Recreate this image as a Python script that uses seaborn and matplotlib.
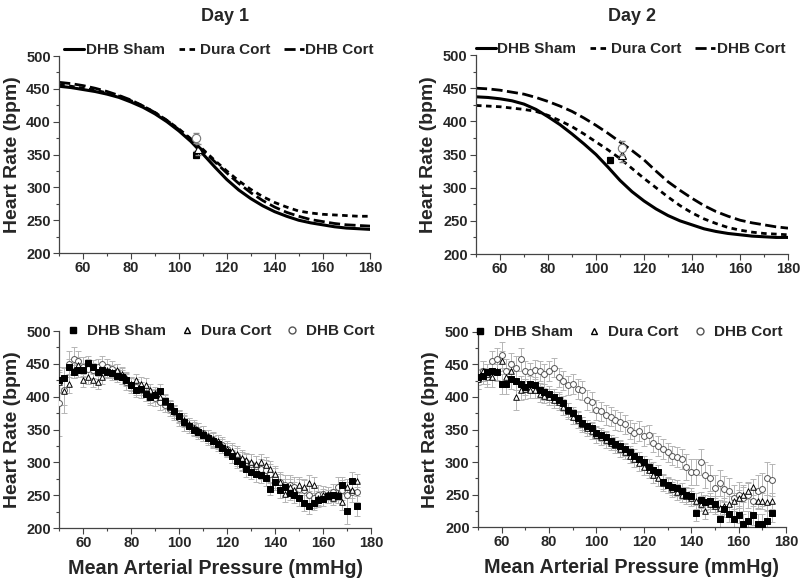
import numpy as np
import pandas as pd
import seaborn as sns
import matplotlib.pyplot as plt
from matplotlib.lines import Line2D
from matplotlib.ticker import MultipleLocator

# ---- fitted curves (top row), MAP every 5 mmHg ----
fit_map = list(range(50, 181, 5))

d1_sham_fit = [454, 452, 449, 446, 442, 437, 430, 422, 412, 400, 386, 370, 351, 331,
               312, 296, 283, 272, 263, 256, 250, 246, 243, 240, 238, 237, 236]
d1_dura_fit = [456, 454, 451, 448, 444, 439, 432, 424, 414, 402, 389, 374, 358, 341,
               325, 310, 297, 286, 277, 270, 264, 261, 259, 258, 257, 256, 256]
d1_cort_fit = [460, 458, 455, 451, 446, 440, 433, 424, 414, 402, 388, 373, 356, 339,
               322, 306, 292, 280, 270, 262, 256, 251, 248, 245, 243, 242, 241]

d2_sham_fit = [437, 436, 434, 431, 426, 418, 407, 395, 381, 366, 350, 331, 311, 294,
               280, 268, 258, 250, 244, 238, 234, 231, 229, 227, 226, 225, 225]
d2_dura_fit = [424, 423, 422, 420, 418, 415, 409, 401, 392, 381, 369, 357, 344, 329,
               314, 300, 286, 273, 262, 253, 246, 240, 236, 233, 231, 230, 229]
d2_cort_fit = [450, 449, 447, 444, 441, 436, 430, 423, 415, 405, 394, 382, 369, 356,
               342, 325, 309, 296, 284, 273, 264, 257, 251, 247, 244, 241, 239]

# mean operating points (MAP, HR, SEM)
d1_mean_map = [107, 108, 107]
d1_mean_hr = [350, 358, 375]
d1_mean_sem = [6, 8, 8]
d2_mean_map = [106, 111, 111]
d2_mean_hr = [342, 350, 360]
d2_mean_sem = [5, 12, 10]

# ---- raw data (bottom row), MAP every 2 mmHg ----
raw_map = list(range(50, 175, 2))

d1_sham = [425, 428, 445, 438, 440, 441, 452, 446, 437, 441, 438, 436, 432, 430, 426, 418,
           410, 412, 404, 400, 402, 409, 394, 386, 378, 370, 362, 356, 350, 346, 341, 337,
           332, 328, 322, 316, 309, 302, 297, 290, 286, 282, 280, 276, 260, 270, 258, 262,
           254, 250, 246, 238, 234, 238, 242, 244, 248, 250, 248, 265, 226, 271, 233]
d1_sham_sem = [20, 15, 12, 10, 10, 10, 10, 10, 10, 10, 10, 10, 10, 10, 10, 10,
               10, 10, 10, 10, 10, 10, 10, 8, 8, 8, 8, 8, 8, 8, 8, 8,
               8, 8, 8, 8, 10, 10, 10, 12, 12, 12, 12, 12, 10, 12, 12, 12,
               12, 12, 12, 12, 12, 10, 10, 10, 10, 10, 10, 12, 20, 15, 15]
d1_dura = [422, 408, 420, 440, 448, 425, 430, 425, 422, 430, 440, 438, 440, 435, 428, 420,
           425, 420, 418, 410, 405, 400, 392, 385, 378, 370, 365, 358, 352, 350, 345, 340,
           335, 332, 325, 320, 317, 312, 306, 303, 300, 297, 300, 296, 290, 283, 270, 252,
           262, 258, 266, 263, 268, 265, 245, 250, 252, 245, 252, 240, 262, 258, 272]
d1_dura_sem = [15, 20, 15, 12, 12, 10, 10, 10, 10, 10, 10, 10, 10, 10, 10, 10,
               10, 10, 10, 10, 10, 10, 10, 10, 10, 10, 10, 10, 10, 10, 10, 10,
               10, 10, 10, 10, 10, 10, 10, 10, 12, 12, 12, 12, 12, 12, 12, 12,
               12, 12, 12, 12, 12, 12, 12, 10, 10, 10, 10, 12, 12, 12, 10]
d1_cort = [390, 410, 450, 458, 455, 445, 442, 440, 445, 450, 445, 442, 438, 432, 422, 418,
           415, 410, 405, 400, 398, 392, 388, 382, 376, 368, 360, 356, 352, 348, 344, 338,
           334, 330, 326, 320, 314, 310, 304, 300, 298, 294, 290, 288, 283, 276, 270, 266,
           265, 262, 260, 258, 250, 246, 250, 252, 250, 255, 262, 258, 250, 255, 255]
d1_cort_sem = [50, 35, 20, 18, 15, 15, 15, 12, 12, 12, 12, 12, 12, 12, 12, 12,
               12, 12, 12, 12, 12, 12, 12, 12, 12, 12, 12, 12, 12, 12, 12, 12,
               12, 12, 12, 12, 15, 15, 15, 15, 15, 15, 15, 15, 15, 15, 15, 15,
               15, 15, 15, 15, 15, 15, 15, 12, 12, 12, 15, 15, 20, 15, 15]

d2_sham = [430, 432, 438, 440, 438, 420, 420, 428, 425, 420, 415, 420, 418, 410, 408, 405,
           400, 395, 390, 380, 375, 368, 360, 355, 352, 345, 342, 338, 332, 328, 324, 320,
           315, 310, 305, 300, 292, 288, 284, 270, 265, 262, 260, 255, 250, 248, 222, 242,
           238, 240, 235, 212, 228, 220, 212, 218, 205, 210, 218, 205, 205, 210, 222]
d2_sham_sem = [12, 12, 12, 12, 12, 15, 15, 15, 15, 12, 12, 12, 12, 12, 12, 12,
               12, 12, 12, 10, 10, 10, 10, 10, 10, 10, 10, 10, 10, 10, 10, 10,
               10, 10, 10, 10, 12, 12, 12, 12, 12, 12, 12, 12, 12, 12, 12, 12,
               12, 12, 12, 12, 12, 12, 12, 12, 15, 15, 15, 15, 15, 15, 15]
d2_dura = [428, 440, 435, 430, 440, 455, 430, 440, 400, 410, 412, 410, 410, 405, 402, 400,
           395, 392, 385, 378, 370, 365, 358, 352, 348, 342, 338, 334, 330, 326, 320, 316,
           310, 304, 298, 292, 287, 280, 275, 268, 264, 258, 254, 250, 248, 244, 240, 236,
           225, 235, 232, 230, 232, 236, 240, 245, 250, 255, 262, 240, 240, 238, 240]
d2_dura_sem = [15, 15, 15, 15, 15, 15, 15, 15, 20, 15, 15, 12, 12, 12, 12, 12,
               12, 12, 12, 12, 12, 12, 12, 12, 12, 12, 12, 12, 12, 12, 12, 12,
               12, 12, 12, 12, 12, 12, 12, 12, 12, 12, 12, 12, 12, 12, 12, 12,
               12, 12, 12, 12, 12, 12, 12, 12, 12, 12, 12, 12, 12, 12, 12]
d2_cort = [428, 440, 430, 455, 458, 465, 440, 450, 445, 458, 440, 438, 442, 440, 435, 440,
           445, 430, 425, 418, 420, 412, 410, 395, 392, 380, 378, 372, 370, 365, 362, 358,
           350, 345, 348, 340, 342, 330, 325, 320, 315, 310, 308, 305, 292, 285, 285, 300,
           280, 275, 260, 268, 258, 255, 245, 250, 245, 250, 240, 255, 258, 275, 272]
d2_cort_sem = [15, 15, 15, 15, 18, 20, 18, 18, 18, 18, 15, 15, 15, 15, 15, 15,
               15, 15, 15, 15, 15, 15, 15, 15, 15, 15, 15, 15, 15, 15, 15, 15,
               15, 15, 15, 15, 15, 15, 15, 15, 15, 15, 15, 15, 20, 20, 20, 20,
               20, 20, 20, 20, 20, 20, 20, 20, 20, 20, 20, 25, 25, 25, 25]

groups = ["DHB Sham", "Dura Cort", "DHB Cort"]

sns.set_style("ticks")
plt.rcParams['font.family'] = ['Liberation Sans', 'DejaVu Sans']
plt.rcParams['font.weight'] = 'bold'

fig = plt.figure(figsize=(8, 5.81), dpi=100)
ax_tl = fig.add_axes([0.074, 0.5645, 0.389, 0.339])
ax_tr = fig.add_axes([0.595, 0.5628, 0.39, 0.3425])
ax_bl = fig.add_axes([0.074, 0.0912, 0.39, 0.339])
ax_br = fig.add_axes([0.5975, 0.0929, 0.385, 0.3357])

line_styles = {"DHB Sham": (None, 2.2), "Dura Cort": ((0, (2.0, 1.6)), 2.0),
               "DHB Cort": ((0, (4.0, 1.6)), 2.0)}


def draw_fits(ax, fits, mean_map, mean_hr, mean_sem, legend_x):
    for (name, vals), mx, my, ms, mk in zip(fits.items(), mean_map, mean_hr, mean_sem,
                                           ["s", "^", "o"]):
        df = pd.DataFrame({"map": fit_map, "hr": vals})
        ls, lw = line_styles[name]
        sns.lineplot(data=df, x="map", y="hr", ax=ax, color="black", lw=lw,
                     linestyle=ls if ls else "-")
        ax.errorbar(mx, my, yerr=ms, fmt="none", ecolor="#888888", elinewidth=0.8,
                    capsize=2)
        ax.plot(mx, my, marker=mk, ms=5 if mk == "s" else 6,
                mfc="black" if mk == "s" else "white",
                mec="black" if mk != "o" else "#777777", mew=0.8, ls="none")
    handles = [Line2D([], [], color="black", lw=2.2),
               Line2D([], [], color="black", lw=2.0, ls=(0, (2.0, 1.6))),
               Line2D([], [], color="black", lw=2.0, ls=(0, (4.0, 1.6)))]
    ax.legend(handles, groups, loc="center", bbox_to_anchor=(legend_x, 1.03), ncol=3,
              frameon=False, fontsize=11, handlelength=1.3, handletextpad=0.1,
              columnspacing=0.9, borderaxespad=0, borderpad=0)


def draw_raw(ax, series, legend_x):
    for name, vals, sem in series:
        ax.errorbar(raw_map, vals, yerr=sem, fmt="none", ecolor="#b5b5b5",
                    elinewidth=0.7, capsize=2, capthick=0.7, zorder=1)
    styles = {"DHB Cort": dict(marker="o", s=18, facecolor="white", edgecolor="#555555"),
              "Dura Cort": dict(marker="^", s=16, facecolor="white", edgecolor="black"),
              "DHB Sham": dict(marker="s", s=18, facecolor="black", edgecolor="black")}
    for name, vals, sem in series[::-1]:
        df = pd.DataFrame({"map": raw_map, "hr": vals})
        st = styles[name]
        sns.scatterplot(data=df, x="map", y="hr", ax=ax, marker=st["marker"], s=st["s"],
                        color=st["facecolor"], edgecolor=st["edgecolor"], linewidth=0.7,
                        zorder=3)
    handles = [Line2D([], [], marker="s", ls="none", ms=4, mfc="black", mec="black"),
               Line2D([], [], marker="^", ls="none", ms=4, mfc="white", mec="black"),
               Line2D([], [], marker="o", ls="none", ms=5, mfc="white", mec="#555555")]
    ax.legend(handles, groups, loc="center", bbox_to_anchor=(legend_x, 1.0), ncol=3,
              frameon=False, fontsize=11, handlelength=0.6, handletextpad=0.6,
              columnspacing=1.1, borderaxespad=0, borderpad=0)


draw_fits(ax_tl, {"DHB Sham": d1_sham_fit, "Dura Cort": d1_dura_fit,
                  "DHB Cort": d1_cort_fit}, d1_mean_map, d1_mean_hr, d1_mean_sem, 0.514)
draw_fits(ax_tr, {"DHB Sham": d2_sham_fit, "Dura Cort": d2_dura_fit,
                  "DHB Cort": d2_cort_fit}, d2_mean_map, d2_mean_hr, d2_mean_sem, 0.495)
draw_raw(ax_bl, [("DHB Sham", d1_sham, d1_sham_sem), ("Dura Cort", d1_dura, d1_dura_sem),
                 ("DHB Cort", d1_cort, d1_cort_sem)], 0.52)
draw_raw(ax_br, [("DHB Sham", d2_sham, d2_sham_sem), ("Dura Cort", d2_dura, d2_dura_sem),
                 ("DHB Cort", d2_cort, d2_cort_sem)], 0.49)

for ax in [ax_tl, ax_tr, ax_bl, ax_br]:
    ax.set_xlim(50, 180)
    ax.set_ylim(200, 500)
    ax.xaxis.set_major_locator(MultipleLocator(20))
    ax.xaxis.set_minor_locator(MultipleLocator(10))
    ax.yaxis.set_major_locator(MultipleLocator(50))
    ax.yaxis.set_minor_locator(MultipleLocator(25))
    ax.set_xticks([60, 80, 100, 120, 140, 160, 180])
    ax.tick_params(axis="both", which="major", length=4, width=0.8, labelsize=10.5,
                   pad=2, color="#444444")
    ax.tick_params(axis="both", which="minor", length=2.5, width=0.8, color="#444444")
    for lab in ax.get_xticklabels() + ax.get_yticklabels():
        lab.set_fontweight("bold")
    for sp in ["top", "right"]:
        ax.spines[sp].set_visible(False)
    for sp in ["left", "bottom"]:
        ax.spines[sp].set_linewidth(0.9)
        ax.spines[sp].set_color("#444444")
    ax.set_ylabel("Heart Rate (bpm)", fontsize=14, fontweight="bold", labelpad=4)
    ax.set_xlabel("")

for ax in [ax_bl, ax_br]:
    ax.set_xlabel("Mean Arterial Pressure (mmHg)", fontsize=14.2, fontweight="bold",
                  labelpad=6)

fig.text(0.281, 0.972, "Day 1", ha="center", va="center", fontsize=13,
         fontweight="bold", family=["Liberation Sans Narrow", "Liberation Sans"])
fig.text(0.79, 0.972, "Day 2", ha="center", va="center", fontsize=13,
         fontweight="bold", family=["Liberation Sans Narrow", "Liberation Sans"])

fig.savefig("out.png", dpi=100, facecolor="white")
